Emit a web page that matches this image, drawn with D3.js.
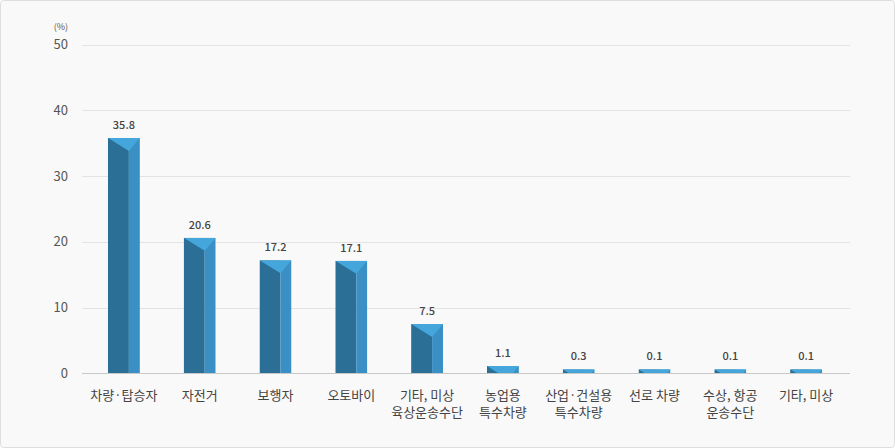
<!DOCTYPE html>
<html><head><meta charset="utf-8">
<script src="https://cdn.jsdelivr.net/npm/d3@7"></script>
<style>
html,body{margin:0;padding:0;background:#fff;}
svg{display:block;font-family:"Noto Sans CJK KR","Noto Sans",sans-serif;}
</style></head>
<body><svg id="chart" width="895" height="448"></svg>
<script>
const categories = [
  ["차량·탑승자"], ["자전거"], ["보행자"], ["오토바이"],
  ["기타, 미상", "육상운송수단"], ["농업용", "특수차량"],
  ["산업·건설용", "특수차량"], ["선로 차량"],
  ["수상, 항공", "운송수단"], ["기타, 미상"]
];
const values = [35.8, 20.6, 17.2, 17.1, 7.5, 1.1, 0.3, 0.1, 0.1, 0.1];
const valueLabels = ["35.8", "20.6", "17.2", "17.1", "7.5", "1.1", "0.3", "0.1", "0.1", "0.1"];
const yTicks = [0, 10, 20, 30, 40, 50];
const unitLabel = "(%)";

const svg = d3.select("#chart");
const W = 895, H = 448;
svg.append("rect").attr("x", 0.5).attr("y", 0.5).attr("width", W - 1).attr("height", H - 1)
  .attr("rx", 3).attr("fill", "#f9f9f9").attr("stroke", "#dedede");

const left = 82, right = 850;
const x = d3.scaleBand().domain(d3.range(categories.length)).range([86, 844]).padding(0);
const y = d3.scaleLinear().domain([0, 50]).range([373.3, 44.5]);

// gridlines
svg.append("g").selectAll("line").data(yTicks.filter(t => t > 0)).join("line")
  .attr("x1", left).attr("x2", right)
  .attr("y1", d => Math.round(y(d)) + 0.5).attr("y2", d => Math.round(y(d)) + 0.5)
  .attr("stroke", "#e3e3e3").attr("stroke-width", 1);

// y tick labels
svg.append("g").selectAll("text").data(yTicks).join("text")
  .attr("x", 68).attr("y", d => y(d)).attr("dy", "0.35em")
  .attr("text-anchor", "end").attr("font-size", 13).attr("fill", "#555")
  .text(d => d);
svg.append("text").attr("x", 68).attr("y", 27).attr("dy", "0.35em")
  .attr("text-anchor", "end").attr("font-size", 9).attr("fill", "#555").text(unitLabel);

// bars
const bw = 32, frontW = 21, capD = 13, minH = 4;
const defs = svg.append("defs");
const bars = svg.append("g");
values.forEach((v, i) => {
  const cx = x(i) + x.bandwidth() / 2;
  const x0 = cx - bw / 2, x1 = cx + bw / 2, xm = x0 + frontW;
  const base = y(0);
  const top = Math.min(y(v), base - minH);
  const h = base - top;
  const cid = "clip" + i;
  defs.append("clipPath").attr("id", cid).append("rect")
    .attr("x", x0).attr("y", top).attr("width", bw).attr("height", h);
  const g = bars.append("g").attr("clip-path", `url(#${cid})`);
  g.append("rect").attr("x", x0).attr("y", top).attr("width", frontW).attr("height", h).attr("fill", "#2b6f97");
  g.append("rect").attr("x", xm).attr("y", top).attr("width", bw - frontW).attr("height", h).attr("fill", "#3a8fc4");
  g.append("path").attr("d", `M${x0},${top}L${x1},${top}L${xm},${top + capD}Z`).attr("fill", "#44a6da");
  bars.append("text").attr("x", cx).attr("y", top - 9)
    .attr("text-anchor", "middle").attr("font-size", 11).attr("font-weight", 500)
    .attr("fill", "#444").text(valueLabels[i]);
});

// baseline
svg.append("line").attr("x1", left).attr("x2", right)
  .attr("y1", 373.5).attr("y2", 373.5).attr("stroke", "#c8c8c8").attr("stroke-width", 1);

// category labels
const cl = svg.append("g");
categories.forEach((lines, i) => {
  const cx = x(i) + x.bandwidth() / 2;
  lines.forEach((s, j) => {
    cl.append("text").attr("x", cx).attr("y", 395 + j * 17).attr("dy", "0.35em")
      .attr("text-anchor", "middle").attr("font-size", 13).attr("fill", "#444").text(s);
  });
});
</script></body></html>
